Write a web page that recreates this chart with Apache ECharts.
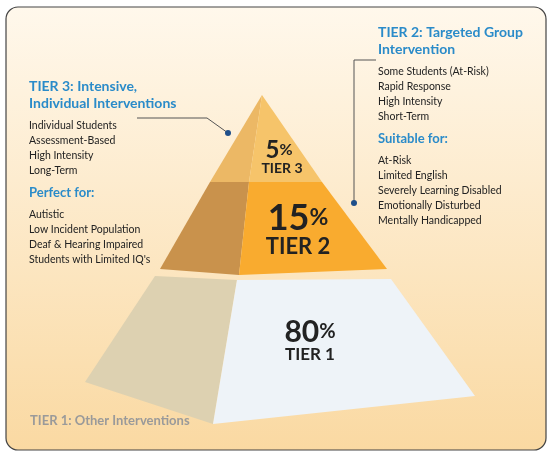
<!DOCTYPE html>
<html><head><meta charset="utf-8">
<script src="https://cdn.jsdelivr.net/npm/echarts@6/dist/echarts.min.js"></script>
<style>html,body{margin:0;padding:0;background:#fff}#c{width:550px;height:456px}</style>
</head><body><div id="c"></div>
<script>
// Tier data
const tiers = ['TIER 3', 'TIER 2', 'TIER 1'];
const percents = ['5', '15', '80'];
// Pyramid faces (shape geometry in chart units: x 0-550, y 0-456 downward)
const faceNames = ['t3L','t3R','t2L','t2R','t1L','t1R'];
const faceColors = ['#ecb865','#f6c46a','#c9924c','#f9ab2f','#ddd1b1','#eef3f8'];
const facePoints = [
  [[262,95],[249,182],[210,182]],
  [[262,95],[322,182],[249,182]],
  [[210,182],[249,182],[239,275],[160,269]],
  [[249,182],[322,182],[387,269],[239,275]],
  [[155,276],[237,280],[213,424],[85,382]],
  [[237,280],[391,279],[475,396],[213,424]]
];
const leftTitle = ['TIER 3: Intensive,', 'Individual Interventions'];
const leftList1 = ['Individual Students','Assessment-Based','High Intensity','Long-Term'];
const leftSub = 'Perfect for:';
const leftList2 = ['Autistic','Low Incident Population','Deaf & Hearing Impaired',"Students with Limited IQ's"];
const rightTitle = ['TIER 2: Targeted Group', 'Intervention'];
const rightList1 = ['Some Students (At-Risk)','Rapid Response','High Intensity','Short-Term'];
const rightSub = 'Suitable for:';
const rightList2 = ['At-Risk','Limited English','Severely Learning Disabled','Emotionally Disturbed','Mentally Handicapped'];
const footer = 'TIER 1: Other Interventions';

const F = 'Lato, "Open Sans", sans-serif';
const blue = '#2a8bc9';
const chart = echarts.init(document.getElementById('c'));
const g = [];
function txt(x, y, s, size, color, bold) {
  g.push({type:'text', x, y, style:{text:s, fill:color, font:(bold?'bold ':'')+size+'px '+F, textVerticalAlign:'middle'}, z:10});
}
leftTitle.forEach((s,i)=>txt(29, 86+i*17, s, 14, blue, true));
leftList1.forEach((s,i)=>txt(29, 126+i*15, s, 10.5, '#222'));
txt(29, 193, leftSub, 13, blue, true);
leftList2.forEach((s,i)=>txt(29, 215+i*15, s, 10.5, '#222'));
rightTitle.forEach((s,i)=>txt(378, 32+i*17, s, 14, blue, true));
rightList1.forEach((s,i)=>txt(378, 72+i*15, s, 10.5, '#222'));
txt(378, 139, rightSub, 13, blue, true);
rightList2.forEach((s,i)=>txt(378, 161+i*15, s, 10.5, '#222'));
txt(30, 421, footer, 13, '#9a9a9a', true);
g.push({type:'polyline', shape:{points:[[137,118],[207,118],[228,133]]}, style:{stroke:'#555',lineWidth:1,fill:null}, z:10});
g.push({type:'circle', shape:{cx:228,cy:133,r:3}, style:{fill:'#1f4f8a'}, z:10});
g.push({type:'polyline', shape:{points:[[376,60],[354,60],[354,203]]}, style:{stroke:'#555',lineWidth:1,fill:null}, z:10});
g.push({type:'circle', shape:{cx:354,cy:203,r:3}, style:{fill:'#1f4f8a'}, z:10});
// tier labels
const labPos = [[[279,150],[282,168],24,14],[[298,218],[298,247],36,22],[[310,332],[310,355],30,17]];
tiers.forEach((t,i)=>{
  const p = labPos[i];
  g.push({type:'text', x:p[0][0], y:p[0][1], style:{rich:{a:{font:'bold '+p[2]+'px '+F,fill:'#222'},b:{font:'bold '+Math.round(p[2]*0.65)+'px '+F,fill:'#222'}}, text:'{a|'+percents[i]+'}{b|%}', align:'center', verticalAlign:'middle'}, z:10});
  g.push({type:'text', x:p[1][0], y:p[1][1], style:{text:t, font:'bold '+p[3]+'px '+F, fill:'#222', align:'center', verticalAlign:'middle'}, z:10});
});
chart.setOption({
  animation:false,
  graphic:[{type:'rect', shape:{x:6,y:7,width:540,height:443,r:12}, style:{fill:new echarts.graphic.LinearGradient(0,0,0,1,[{offset:0,color:'#fff8ec'},{offset:1,color:'#fad9a2'}]), stroke:'#444', lineWidth:1.2}, z:-10}].concat(g),
  grid:{left:0,right:0,top:0,bottom:0},
  xAxis:{type:'value',min:0,max:550,show:false},
  yAxis:{type:'value',min:0,max:456,inverse:true,show:false},
  series:[{
    type:'custom',
    data: faceNames.map((n,i)=>[i]),
    renderItem:(params, api)=>{
      const i = api.value(0);
      return {type:'polygon', shape:{points:facePoints[i].map(p=>api.coord(p))}, style:{fill:faceColors[i]}};
    },
    z:2
  }]
});
</script></body></html>
